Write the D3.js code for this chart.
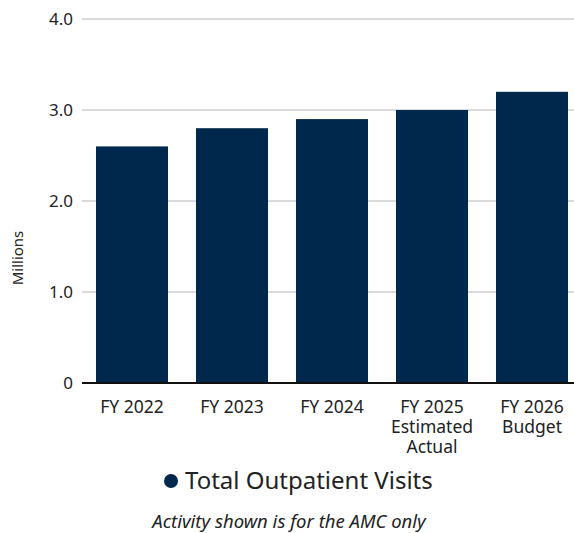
<!DOCTYPE html>
<html>
<head>
<meta charset="utf-8">
<script src="https://cdn.jsdelivr.net/npm/d3@7"></script>
<style>
  html, body { margin: 0; padding: 0; background: #fff; }
  svg { display: block; font-family: "Noto Sans", "Open Sans", sans-serif; }
</style>
</head>
<body>
<svg id="chart" width="574" height="533"></svg>
<script>
// Outpatient visit volume by fiscal year (millions)
const categories = [["FY 2022"], ["FY 2023"], ["FY 2024"], ["FY 2025", "Estimated", "Actual"], ["FY 2026", "Budget"]];
const values = [2.6, 2.8, 2.9, 3.0, 3.2];
const yTicks = [0, 1, 2, 3, 4];
const seriesName = "Total Outpatient Visits";
const footnote = "Activity shown is for the AMC only";
const barColor = "#00284d";
const textColor = "#222";

const svg = d3.select("#chart");
const margin = { left: 82, right: -8, top: 19, bottom: 150 };
const W = 574, H = 533;

const x = d3.scaleBand()
  .domain(d3.range(values.length))
  .range([margin.left, W - margin.right])
  .paddingInner(0.28)
  .paddingOuter(0.14);

const y = d3.scaleLinear()
  .domain([0, 4])
  .range([H - margin.bottom, margin.top]);

// Gridlines
svg.append("g")
  .selectAll("line")
  .data(yTicks.filter(d => d > 0))
  .join("line")
  .attr("x1", margin.left)
  .attr("x2", W)
  .attr("y1", d => y(d))
  .attr("y2", d => y(d))
  .attr("stroke", "#b3b3b3")
  .attr("stroke-width", 1.2);

// Y tick labels
svg.append("g")
  .selectAll("text")
  .data(yTicks)
  .join("text")
  .attr("x", 73)
  .attr("y", d => y(d))
  .attr("dy", "0.35em")
  .attr("text-anchor", "end")
  .attr("fill", textColor)
  .attr("font-size", 17)
  .text(d => d === 0 ? "0" : d3.format(".1f")(d));

// Bars
svg.append("g")
  .selectAll("rect")
  .data(values)
  .join("rect")
  .attr("x", (d, i) => x(i))
  .attr("width", x.bandwidth())
  .attr("y", d => y(d))
  .attr("height", d => y(0) - y(d))
  .attr("fill", barColor);

// Baseline
svg.append("line")
  .attr("x1", margin.left)
  .attr("x2", W)
  .attr("y1", y(0))
  .attr("y2", y(0))
  .attr("stroke", "#111")
  .attr("stroke-width", 2);

// X category labels (multi-line)
const xl = svg.append("g")
  .selectAll("text")
  .data(categories)
  .join("text")
  .attr("x", (d, i) => x(i) + x.bandwidth() / 2)
  .attr("y", y(0) + 30)
  .attr("text-anchor", "middle")
  .attr("fill", textColor)
  .attr("font-size", 17.5);
xl.selectAll("tspan")
  .data(d => d)
  .join("tspan")
  .attr("x", function () { return d3.select(this.parentNode).attr("x"); })
  .attr("dy", (d, i) => i === 0 ? 0 : 20)
  .text(d => d);

// Y axis title
svg.append("text")
  .attr("transform", `translate(23, ${(y(0) + y(4)) / 2 + 57}) rotate(-90)`)
  .attr("text-anchor", "middle")
  .attr("fill", textColor)
  .attr("font-size", 15)
  .text("Millions");

// Legend
const legend = svg.append("g").attr("transform", "translate(171, 481)");
legend.append("circle").attr("r", 7).attr("fill", barColor);
legend.append("text")
  .attr("x", 14)
  .attr("dy", "0.35em")
  .attr("fill", textColor)
  .attr("font-size", 24)
  .text(seriesName);

// Footnote
svg.append("text")
  .attr("x", 289)
  .attr("y", 528)
  .attr("text-anchor", "middle")
  .attr("fill", textColor)
  .attr("font-size", 18.5)
  .attr("font-style", "italic")
  .text(footnote);
</script>
</body>
</html>
